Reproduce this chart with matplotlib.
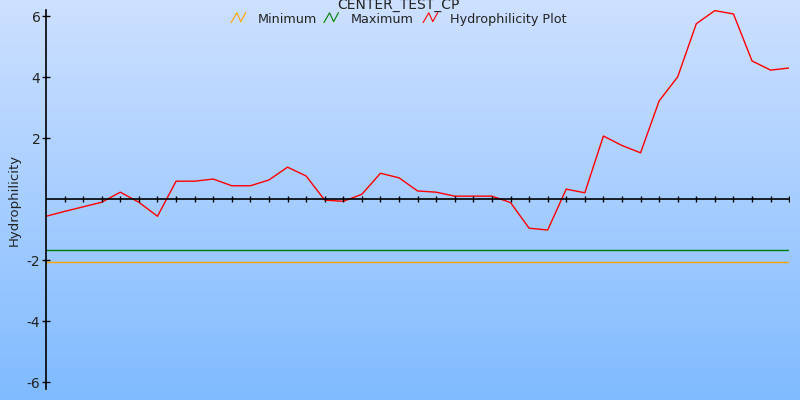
import numpy as np
import matplotlib
matplotlib.use("Agg")
import matplotlib.pyplot as plt
from matplotlib.lines import Line2D

# hydrophilicity profile, one value per residue window
positions = list(range(41))
hydro = [-0.56, -0.40, -0.25, -0.10, 0.23, -0.10, -0.56, 0.59, 0.59, 0.66,
         0.44, 0.44, 0.63, 1.05, 0.76, -0.03, -0.07, 0.16, 0.85, 0.70,
         0.27, 0.23, 0.10, 0.10, 0.10, -0.11, -0.95, -1.01, 0.33, 0.21,
         2.07, 1.76, 1.52, 3.22, 4.01, 5.75, 6.18, 6.07, 4.53, 4.23, 4.30]
minimum = -2.07
maximum = -1.67
yticks = [-6, -4, -2, 2, 4, 6]

fig = plt.figure(figsize=(8, 4), dpi=100)

# gradient background
bg = fig.add_axes([0, 0, 1, 1], zorder=-10)
top = np.array([205, 224, 255]) / 255.0
bot = np.array([128, 187, 255]) / 255.0
t = np.linspace(0, 1, 256)[:, None]
grad = top * (1 - t) + bot * t
bg.imshow(grad[:, None, :], aspect="auto", extent=[0, 1, 0, 1])
bg.axis("off")

ax = fig.add_axes([0.0575, 0.0275, 0.929, 0.9475])
ax.patch.set_alpha(0)
ax.plot(positions, [minimum] * len(positions), color="orange", lw=1)
ax.plot(positions, [maximum] * len(positions), color="green", lw=1)
ax.plot(positions, hydro, color="red", lw=1)

ax.set_xlim(0, 40)
ax.set_ylim(-6.22, 6.2)
for s in ["top", "right", "bottom"]:
    ax.spines[s].set_visible(False)
ax.spines["left"].set_linewidth(1.2)

# horizontal zero axis with crossing ticks
ax.axhline(0, color="black", lw=1.2)
ax.plot(positions[1:], [0] * (len(positions) - 1), ls="none", marker="|",
        color="black", ms=5, mew=1.0)
ax.set_xticks([])
ax.set_yticks(yticks)
ax.set_yticklabels([str(v) for v in yticks])
ax.tick_params(axis="y", direction="inout", length=6, width=1.0,
               labelsize=10, labelcolor="#222222", pad=1)
ax.set_ylabel("Hydrophilicity", fontsize=9.5, color="#222222", labelpad=4)

fig.text(0.4975, 1.004, "CENTER_TEST_CP", ha="center", va="top",
         fontsize=10, color="#222222")

# legend with zigzag icons
items = [("Minimum", "orange", 0.289), ("Maximum", "green", 0.405),
         ("Hydrophilicity Plot", "red", 0.529)]
for label, col, x0 in items:
    fig.lines.append(Line2D([x0, x0 + 0.007, x0 + 0.012, x0 + 0.018],
                            [0.944, 0.968, 0.946, 0.968],
                            transform=fig.transFigure, color=col, lw=0.8))
    fig.text(x0 + 0.0335, 0.952, label, ha="left", va="center",
             fontsize=9.2, color="#222222")

fig.savefig("out.png", dpi=100)
